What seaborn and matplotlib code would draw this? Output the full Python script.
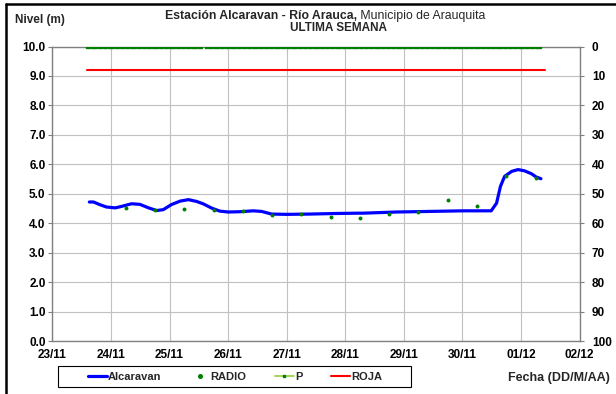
import numpy as np
import pandas as pd
import matplotlib
matplotlib.use("Agg")
import matplotlib.pyplot as plt
import seaborn as sns
from matplotlib.lines import Line2D
from matplotlib.patches import Rectangle

# --- data (time in hours since 23/11 00:00) ---
nivel_h = [15.1, 16.8, 19.4, 22.1, 25.7, 28.3, 32.4, 35.8, 39.4, 42.7, 45.4,
           48.7, 52.3, 55.7, 59.0, 61.7, 65.3, 68.6, 72.0, 76.8, 82.3, 85.7,
           89.8, 96.0, 105.4, 116.4, 125.0, 127.2, 140.9, 154.6, 168.2, 179.8,
           182.0, 183.6, 185.3, 188.2, 190.8, 193.4, 196.3, 198.2, 200.2]
nivel_m = [4.72, 4.72, 4.63, 4.55, 4.52, 4.57, 4.66, 4.64, 4.52, 4.43, 4.46,
           4.63, 4.75, 4.80, 4.74, 4.66, 4.51, 4.41, 4.38, 4.39, 4.42, 4.40,
           4.31, 4.30, 4.31, 4.33, 4.34, 4.34, 4.38, 4.40, 4.42, 4.42,
           4.68, 5.25, 5.59, 5.76, 5.82, 5.78, 5.68, 5.57, 5.51]

radio_h = [30, 42, 54, 66, 78, 90, 102, 114, 126, 138, 150, 162, 174, 186, 198]
radio_m = [4.51, 4.44, 4.49, 4.44, 4.40, 4.29, 4.30, 4.22, 4.19, 4.32, 4.39,
           4.80, 4.58, 5.61, 5.55]

# precipitation (mm), hourly; hour 62 has no record
p_h = list(range(14, 201))
p_mm = [np.nan if h == 62 else 0.0 for h in p_h]

roja_h = [14, 202]
roja_m = [9.2, 9.2]

day_labels = ["23/11", "24/11", "25/11", "26/11", "27/11",
              "28/11", "29/11", "30/11", "01/12", "02/12"]

# --- styling ---
sns.set_theme(style="white")
plt.rcParams["font.family"] = ["Liberation Sans", "DejaVu Sans"]
plt.rcParams["font.size"] = 8

W, H = 616, 394
fig = plt.figure(figsize=(W / 100, H / 100), dpi=100)
ax = fig.add_axes([52.5 / W, 1 - 341 / H, (579.5 - 52.5) / W, (341 - 46.5) / H])
ax2 = ax.twinx()

grid_c = "#c0c0c0"
axis_c = "#808080"
tick_fs = 8.5

ax.set_xlim(0, 9 * 24)
ax.set_ylim(0, 10)
ax.set_xticks([i * 24 for i in range(len(day_labels))])
ax.set_xticklabels(day_labels, fontweight="bold", fontsize=tick_fs)
ax.set_yticks(np.arange(0, 10.01, 1.0))
ax.set_yticklabels([f"{v:.1f}" for v in np.arange(0, 10.01, 1.0)],
                   fontweight="bold", fontsize=tick_fs)
ax.grid(True, color=grid_c, lw=0.8)
ax.set_axisbelow(True)
for s in ["left", "bottom", "top"]:
    ax.spines[s].set_color(axis_c)
    ax.spines[s].set_linewidth(1.0)
ax.spines["right"].set_visible(False)
ax.tick_params(axis="both", direction="out", length=3, width=0.8,
               color=axis_c, pad=2, labelcolor="black")
ax.tick_params(axis="x", pad=3)

ax2.set_ylim(100, 0)
ax2.set_yticks(np.arange(0, 101, 10))
ax2.set_yticklabels([str(v) for v in range(0, 101, 10)], fontweight="bold",
                    fontsize=tick_fs)
ax2.tick_params(axis="y", direction="out", length=3, width=0.8,
                color=axis_c, pad=6, labelcolor="black")
for s in ["left", "bottom", "top"]:
    ax2.spines[s].set_visible(False)
ax2.spines["right"].set_color(axis_c)
ax2.spines["right"].set_linewidth(1.0)
ax2.grid(False)

# --- series ---
ax.plot(roja_h, roja_m, color="#ff0000", lw=1.5, zorder=3)
sns.lineplot(x=nivel_h, y=nivel_m, ax=ax, color="#0000ff", lw=2.3,
             sort=False, estimator=None, zorder=4)
sns.scatterplot(x=radio_h, y=radio_m, ax=ax, color="#008000", marker="o",
                s=8, linewidth=0, zorder=5)
ax2.plot(p_h, p_mm, color="#99cc33", lw=0.8, marker="s", markersize=1.9,
         markerfacecolor="#008000", markeredgecolor="#008000", zorder=3)

# --- text ---
fig.text(15 / W, 1 - 20 / H, "Nivel (m)", fontweight="bold", fontsize=8.5,
         ha="left", va="center")
fig.text(357 / W, 1 - 16 / H, "Estación Alcaravan - Río Arauca,",
         fontweight="bold", fontsize=8.8, ha="right", va="center")
fig.text(357 / W, 1 - 16 / H, " Municipio de Arauquita",
         fontsize=8.8, ha="left", va="center")
fig.text(338 / W, 1 - 28 / H, "ULTIMA SEMANA", fontweight="bold",
         fontsize=8.5, ha="center", va="center",
         family=["Liberation Sans Narrow", "Liberation Sans", "DejaVu Sans"])
fig.text(610 / W, 1 - 378 / H, "Fecha (DD/M/AA)", fontweight="bold",
         fontsize=9, ha="right", va="center")

# --- legend (frame drawn separately) ---
handles = [
    Line2D([], [], color="#0000ff", lw=2.3),
    Line2D([], [], color="#008000", lw=0, marker="o", markersize=2.6),
    Line2D([], [], color="#99cc33", lw=1.2, marker="s", markersize=2,
           markerfacecolor="#008000", markeredgecolor="#008000"),
    Line2D([], [], color="#ff0000", lw=1.5),
]
leg = fig.legend(handles, ["Alcaravan", "RADIO", "P", "ROJA"], ncol=4,
                 loc="center", bbox_to_anchor=(235 / W, 1 - 376.5 / H),
                 frameon=False, handlelength=1.7, handletextpad=0.1,
                 columnspacing=2.6, borderaxespad=0,
                 prop={"weight": "bold", "size": 8})
fig.add_artist(Rectangle((58 / W, 1 - 387 / H), (411 - 58) / W, 21 / H,
                         transform=fig.transFigure, fill=False,
                         edgecolor="black", lw=0.8))

# --- outer frame ---
fig.add_artist(Line2D([6 / W, 6 / W], [0, 1 - 4 / H], color="black", lw=1.8,
                      transform=fig.transFigure))
fig.add_artist(Line2D([6 / W, 1], [1 - 4 / H, 1 - 4 / H], color="black", lw=1.8,
                      transform=fig.transFigure))

fig.savefig("out.png", dpi=100)
